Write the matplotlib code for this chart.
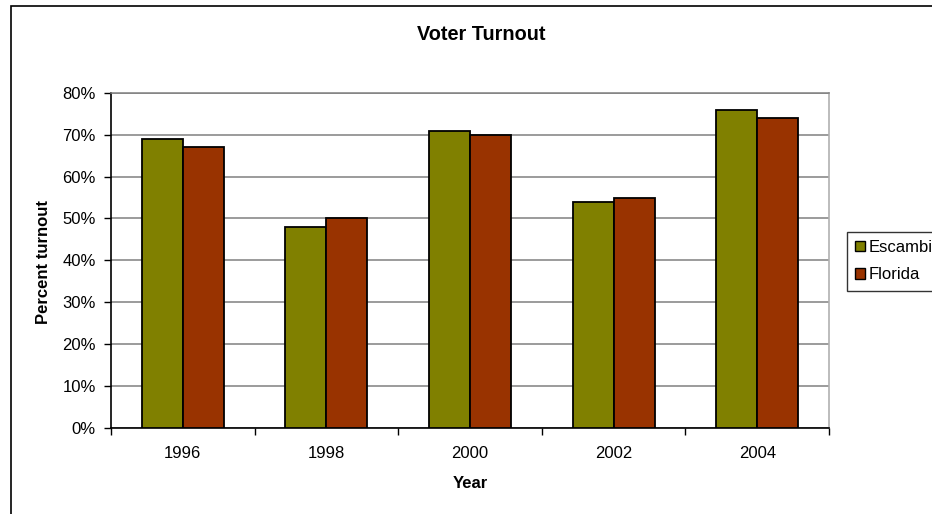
import numpy as np
import matplotlib
matplotlib.use("Agg")
import matplotlib.pyplot as plt
from matplotlib.patches import Patch, Rectangle

plt.rcParams.update(
    {
        "font.family": ["Liberation Sans", "DejaVu Sans"],
        "font.size": 12,
    }
)

YEARS = ["1996", "1998", "2000", "2002", "2004"]
ESCAMBIA = [69, 48, 71, 54, 76]
FLORIDA = [67, 50, 70, 55, 74]
Y_TICKS = [0, 10, 20, 30, 40, 50, 60, 70, 80]

COLOR_ESCAMBIA = "#808000"
COLOR_FLORIDA = "#993300"
COLOR_GRID = "#808080"

W, H = 932, 514
fig = plt.figure(figsize=(W / 100, H / 100), dpi=100)

# outer chart border (right and bottom edges fall outside the image)
fig.patches.append(
    Rectangle(
        (11 / W, -0.1),
        1.2,
        1 - 6 / H + 0.1,
        transform=fig.transFigure,
        fill=False,
        edgecolor="black",
        lw=1.2,
    )
)

left, right, top, bottom = 111, 829, 93, 427.5
ax = fig.add_axes(
    [left / W, (H - bottom) / H, (right - left) / W, (bottom - top) / H]
)

x = np.arange(len(YEARS))
bar_w = 1 / 3.5
ax.bar(
    x - bar_w / 2,
    ESCAMBIA,
    bar_w,
    color=COLOR_ESCAMBIA,
    edgecolor="black",
    lw=1.3,
    zorder=3,
    label="Escambia",
)
ax.bar(
    x + bar_w / 2,
    FLORIDA,
    bar_w,
    color=COLOR_FLORIDA,
    edgecolor="black",
    lw=1.3,
    zorder=3,
    label="Florida",
)

ax.set_xlim(-0.5, len(YEARS) - 0.5)
ax.set_ylim(0, 80)

ax.set_yticks(Y_TICKS)
ax.set_yticklabels([f"{v}%" for v in Y_TICKS])
ax.yaxis.grid(True, color=COLOR_GRID, lw=1.1, zorder=1)
ax.tick_params(axis="y", direction="out", length=5, width=1, pad=6, labelsize=12)

ax.set_xticks(x)
ax.set_xticklabels(YEARS)
ax.set_xticks(np.arange(len(YEARS) + 1) - 0.5, minor=True)
ax.tick_params(axis="x", which="major", length=0, pad=13, labelsize=12)
ax.tick_params(axis="x", which="minor", direction="out", length=5, width=1)

for side in ["left", "bottom"]:
    ax.spines[side].set_color("black")
    ax.spines[side].set_linewidth(1.2)
ax.spines["top"].set_color(COLOR_GRID)
ax.spines["top"].set_linewidth(1.1)
ax.spines["right"].set_color("#b0b0b0")
ax.spines["right"].set_linewidth(1.2)

fig.text(481 / W, 1 - 35 / H, "Voter Turnout", ha="center", va="center",
         fontsize=14.3, fontweight="bold")
fig.text(470 / W, 1 - 484 / H, "Year", ha="center", va="center",
         fontsize=12, fontweight="bold")
fig.text(43 / W, 1 - 262 / H, "Percent turnout", ha="center", va="center",
         rotation=90, fontsize=12, fontweight="bold")

handles = [
    Patch(facecolor=COLOR_ESCAMBIA, edgecolor="black", label="Escambia"),
    Patch(facecolor=COLOR_FLORIDA, edgecolor="black", label="Florida"),
]
leg = fig.legend(
    handles=handles,
    loc="upper left",
    bbox_to_anchor=(846.5 / W, 1 - 231.5 / H),
    frameon=True,
    fancybox=False,
    fontsize=12,
    handlelength=0.6,
    handleheight=0.6,
    handletextpad=0.25,
    labelspacing=0.75,
    borderpad=0.5,
    borderaxespad=0,
)
leg.get_frame().set_edgecolor("black")
leg.get_frame().set_linewidth(1.0)

fig.savefig("out.png", dpi=100)
